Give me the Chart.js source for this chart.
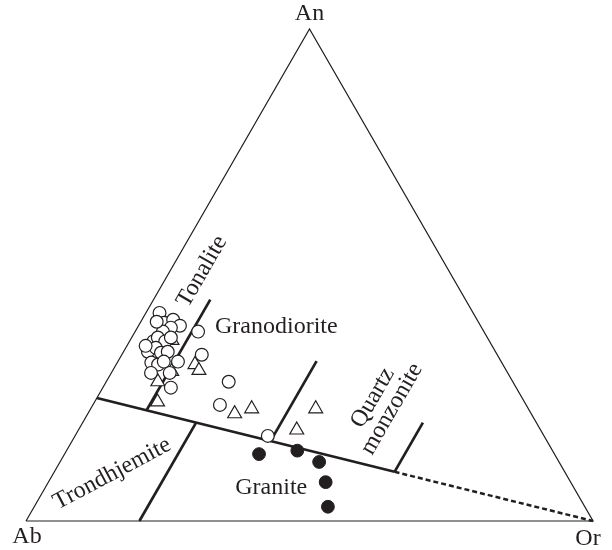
<!DOCTYPE html>
<html><head><meta charset="utf-8">
<script src="https://cdn.jsdelivr.net/npm/chart.js@4.4.0/dist/chart.umd.min.js"></script>
<style>html,body{margin:0;padding:0;background:#fff;}canvas{display:block;}</style>
</head><body>
<canvas id="c" width="612" height="550"></canvas>
<script>
// ---- Data (ternary percentages An / Ab / Or) ----
const vertexNames = ['An', 'Ab', 'Or'];
const fieldNames = ['Tonalite', 'Granodiorite', 'Trondhjemite', 'Granite', 'Quartz\nmonzonite'];

// open circles
const circleAn = [42.3, 40.3, 40.9, 39.7, 39.3, 38.5, 38.5, 36.5, 37.3, 36.5, 37.3, 34.4, 35.2, 34.2, 34.4, 33.8, 32.4, 32.2, 31.8, 30.1, 30.1, 27.1, 28.3, 23.6, 17.3, 35.6, 32.4, 40.5];
const circleAb = [55.3, 55.5, 53.6, 53.0, 54.8, 56.6, 50.4, 59.3, 58.1, 57.2, 55.8, 61.3, 59.5, 59.1, 57.8, 52.1, 57.0, 61.8, 60.8, 62.9, 59.6, 60.9, 50.1, 54.0, 48.7, 61.1, 59.5, 56.7];
const circleOr = [2.4, 4.2, 5.5, 7.3, 5.9, 4.9, 11.1, 4.2, 4.6, 6.3, 6.9, 4.3, 5.3, 6.7, 7.8, 14.1, 10.6, 6.0, 7.4, 7.0, 10.3, 12.0, 21.6, 22.4, 34.0, 3.3, 8.1, 2.8];

// open triangles
const triAn = [36.7, 31.8, 30.6, 30.4, 28.3, 24.2, 21.8, 22.8, 22.8, 18.5];
const triAb = [55.9, 54.3, 54.2, 59.1, 62.6, 64.7, 52.3, 48.8, 37.5, 43.0];
const triOr = [7.4, 13.9, 15.2, 10.5, 9.1, 11.1, 25.9, 28.4, 39.7, 38.5];

// filled circles
const dotAn = [13.6, 14.3, 12.0, 7.9, 2.9];
const dotAb = [52.1, 45.0, 42.3, 43.2, 45.3];
const dotOr = [34.3, 40.7, 45.7, 48.9, 51.8];

// triangle frame (Ab, Or, An, back to Ab)
const frameAn = [0, 0, 100, 0];
const frameAb = [100, 0, 0, 100];
const frameOr = [0, 100, 0, 0];

// field boundaries: [start [An,Ab,Or], end [An,Ab,Or]]
const solidBoundaries = [
  [[25, 75, 0], [10, 30, 60]],
  [[22.5, 67.5, 10], [45, 45, 10]],
  [[20, 60, 20], [0, 80, 20]],
  [[16.25, 48.75, 35], [32.5, 32.5, 35]],
  [[10, 30, 60], [20, 20, 60]]
];
const dashedBoundaries = [
  [[10, 30, 60], [0, 0, 100]]
];

// ---- helpers ----
const S3 = Math.sqrt(3) / 2;
function toXY(an, ab, or) {
  const s = an + ab + or;
  return { x: (or + an / 2) / s * 100, y: an * S3 / s * 100 };
}
function pts(A, B, O) { return A.map((a, i) => toXY(a, B[i], O[i])); }

const INK = '#231f20';
const datasets = [];

datasets.push({
  data: pts(circleAn, circleAb, circleOr), pointStyle: 'circle', pointRadius: 6.4,
  pointBackgroundColor: '#fff', pointBorderColor: INK, pointBorderWidth: 1.2,
  showLine: false, order: 0, clip: false
});
datasets.push({
  data: pts(triAn, triAb, triOr), pointStyle: 'triangle', pointRadius: 8,
  pointBackgroundColor: '#fff', pointBorderColor: INK, pointBorderWidth: 1.2,
  showLine: false, order: 0, clip: false
});
datasets.push({
  data: pts(dotAn, dotAb, dotOr), pointStyle: 'circle', pointRadius: 6.4,
  pointBackgroundColor: INK, pointBorderColor: INK, pointBorderWidth: 1,
  showLine: false, order: 0, clip: false
});
datasets.push({
  data: pts(frameAn, frameAb, frameOr), showLine: true, borderColor: INK, borderWidth: 1.2,
  pointRadius: 0, fill: false, tension: 0, order: 2, clip: false
});
solidBoundaries.forEach(seg => {
  datasets.push({
    data: seg.map(p => toXY(p[0], p[1], p[2])), showLine: true, borderColor: INK,
    borderWidth: 2.7, pointRadius: 0, fill: false, order: 1, clip: false
  });
});
dashedBoundaries.forEach(seg => {
  datasets.push({
    data: seg.map(p => toXY(p[0], p[1], p[2])), showLine: true, borderColor: INK,
    borderWidth: 2.5, borderDash: [5, 3], pointRadius: 0, fill: false, order: 1, clip: false
  });
});

const labelPlugin = {
  id: 'ternaryLabels',
  afterDatasetsDraw(chart, args, opts) {
    const { ctx, scales: { x, y } } = chart;
    ctx.save();
    ctx.fillStyle = opts.color;
    ctx.font = opts.font;
    ctx.textAlign = 'center';
    ctx.textBaseline = 'middle';
    opts.items.forEach(it => {
      const p = toXY(it.at[0], it.at[1], it.at[2]);
      const px = x.getPixelForValue(p.x) + (it.dx || 0);
      const py = y.getPixelForValue(p.y) + (it.dy || 0);
      ctx.save();
      ctx.translate(px, py);
      ctx.rotate((it.rot || 0) * Math.PI / 180);
      const lines = it.text.split('\n');
      lines.forEach((l, i) => ctx.fillText(l, 0, (i - (lines.length - 1) / 2) * (it.lh || 22)));
      ctx.restore();
    });
    ctx.restore();
  }
};

new Chart(document.getElementById('c'), {
  type: 'scatter',
  data: { datasets },
  plugins: [labelPlugin],
  options: {
    responsive: false,
    animation: false,
    devicePixelRatio: 1,
    layout: { padding: { left: 26, right: 19, top: 29, bottom: 29 } },
    scales: {
      x: { type: 'linear', min: 0, max: 100, display: false },
      y: { type: 'linear', min: 0, max: 100 * S3, display: false }
    },
    plugins: {
      legend: { display: false },
      tooltip: { enabled: false },
      ternaryLabels: {
        color: INK,
        font: '24px "Liberation Serif", "DejaVu Serif", serif',
        items: [
          { text: vertexNames[0], at: [100, 0, 0], dx: 0, dy: -15 },
          { text: vertexNames[1], at: [0, 100, 0], dx: 1, dy: 16 },
          { text: vertexNames[2], at: [0, 0, 100], dx: -5, dy: 18 },
          { text: fieldNames[0], at: [50.7, 43.6, 5.7], rot: -60 },
          { text: fieldNames[1], at: [39.5, 36.1, 24.4], rot: 0 },
          { text: fieldNames[2], at: [9.6, 80.0, 10.4], rot: -28 },
          { text: fieldNames[3], at: [6.7, 53.4, 39.9], rot: 0 },
          { text: fieldNames[4], at: [23.9, 25.2, 50.9], rot: -60, lh: 22 }
        ]
      }
    }
  }
});
</script>
</body></html>
